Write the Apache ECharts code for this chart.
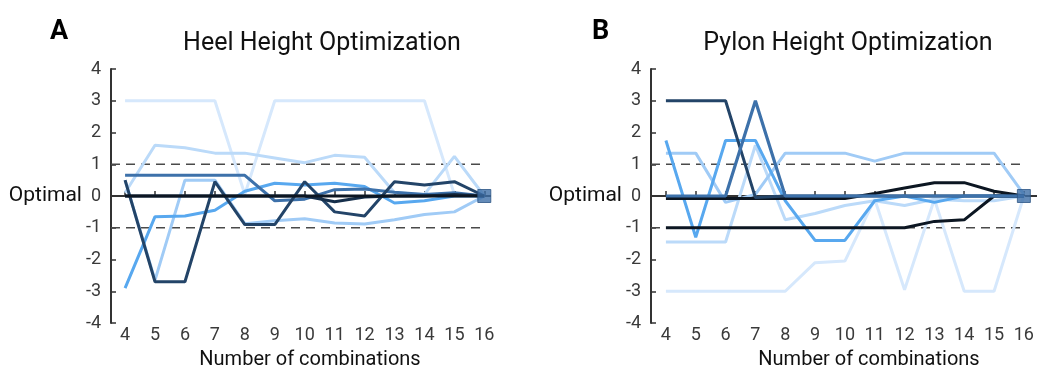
<!DOCTYPE html>
<html><head><meta charset="utf-8">
<script src="https://cdn.jsdelivr.net/npm/echarts@6/dist/echarts.min.js"></script>
<style>html,body{margin:0;padding:0;background:#fff}#c{width:1037px;height:369px}</style>
</head><body><div id="c"></div>
<script>
const combos = [4,5,6,7,8,9,10,11,12,13,14,15,16];
const yTicks = [-4,-3,-2,-1,0,1,2,3,4];
// Heel height (panel A)
const heelPalest = [3,3,3,3,0.05,3,3,3,3,3,3,0.05,0];
const heelPale   = [0.1,1.6,1.52,1.35,1.35,1.2,1.05,1.28,1.22,0.1,0.05,1.25,0];
const heelLight  = [0.5,-2.65,0.5,0.5,-0.87,-0.78,-0.72,-0.85,-0.88,-0.75,-0.58,-0.5,0];
const heelBright = [-2.9,-0.65,-0.63,-0.45,0.15,0.4,0.35,0.4,0.3,-0.22,-0.15,0,0];
const heelMedium = [0.65,0.65,0.65,0.65,0.65,-0.15,-0.1,0.2,0.22,0.12,0.05,0.1,0];
const heelNavy   = [0.5,-2.7,-2.7,0.45,-0.9,-0.9,0.45,-0.5,-0.63,0.45,0.35,0.45,0];
const heelDark   = [0,0,0,0,0,0,0,-0.18,-0.03,0,0,0.05,0];
const heelBlack  = [0,0,0,0,0,0,0,0,0,0,0,0,0];
// Pylon height (panel B)
const pylPalest = [-3,-3,-3,-3,-3,-2.1,-2.05,-0.1,-2.95,-0.1,-3,-3,0];
const pylPale   = [-1.45,-1.45,-1.45,1.6,-0.75,-0.55,-0.3,-0.15,-0.3,-0.1,-0.15,-0.15,0];
const pylLight  = [1.35,1.35,-0.2,0.05,1.35,1.35,1.35,1.1,1.35,1.35,1.35,1.35,0.05];
const pylBright = [1.75,-1.3,1.75,1.75,-0.15,-1.4,-1.4,-0.15,0,-0.2,0,0,0];
const pylNavy   = [3,3,3,-0.05,0,0,0,0,0,0,0,0,0];
const pylMedium = [0,0,0,3,0,0,0,0,0,0,0,0,0];
const pylBlack1 = [-1,-1,-1,-1,-1,-1,-1,-1,-1,-0.8,-0.75,0,0];
const pylBlack2 = [-0.08,-0.08,-0.08,-0.08,-0.08,-0.08,-0.08,0.08,0.25,0.42,0.42,0.15,0];
const refLevels = [1,-1];
const optimum = [16,0];
const titles = ['Heel Height Optimization','Pylon Height Optimization'];
const panelLetters = ['A','B'];
const xName = 'Number of combinations';

const col = {palest:'#d6e8fc',pale:'#bbdaf9',light:'#a0cbf6',bright:'#58a8ef',medium:'#3d71aa',navy:'#234468',dark:'#162f4b',black:'#0c1622'};
const zip = arr => combos.map((c,i)=>[c,arr[i]]);
function line(arr, color, idx, w){
  return {type:'line', data:zip(arr), xAxisIndex:idx, yAxisIndex:idx, symbol:'none',
    lineStyle:{color:color, width:w||3}, itemStyle:{color:color}, animation:false, z:2};
}
function refs(idx, xmin){
  return refLevels.map(v=>({type:'line', data:[[xmin,v],[16,v]], xAxisIndex:idx, yAxisIndex:idx, symbol:'none',
    lineStyle:{color:'#4a4a4a', width:1.6, type:[9,6]}, animation:false, z:1}));
}
const chart = echarts.init(document.getElementById('c'));
const xMins = [3.53, 3.5], xMaxs = [16.19, 16.44];
function xAxis(i, gi){
  return {type:'value', gridIndex:gi, min:xMins[i], max:xMaxs[i],
    axisLine:{lineStyle:{color:'#333', width:2}},
    axisTick:{inside:true, length:5, customValues:combos, lineStyle:{color:'#333', width:1.5}},
    axisLabel:{customValues:combos, color:'#3a3a3a', fontSize:18, fontFamily:'Roboto', margin:3},
    splitLine:{show:false}};
}
function yAxis(gi){
  return {type:'value', gridIndex:gi, min:-4, max:4, interval:1,
    axisLine:{show:true, lineStyle:{color:'#333', width:2}},
    axisTick:{show:true, inside:true, length:5, lineStyle:{color:'#333', width:1.5}},
    axisLabel:{color:'#3a3a3a', fontSize:18, fontFamily:'Roboto', margin:10,
      formatter: v => v===0 ? '{o|Optimal}  0' : String(v),
      rich:{o:{color:'#111', fontSize:21, fontFamily:'Roboto'}}},
    splitLine:{show:false}};
}
chart.setOption({
  animation:false,
  grid:[{left:111, right:547, top:69, bottom:46}, {left:651, right:0, top:69, bottom:46}],
  xAxis:[xAxis(0,0), xAxis(1,1)],
  yAxis:[yAxis(0), yAxis(1)],
  title:[
    {text:panelLetters[0], left:45, top:14, textStyle:{fontSize:27, fontWeight:'bold', color:'#000', fontFamily:'Roboto'}},
    {text:panelLetters[1], left:587, top:14, textStyle:{fontSize:27, fontWeight:'bold', color:'#000', fontFamily:'Roboto'}},
    {text:titles[0], left:317, top:26, textAlign:'center', textStyle:{fontSize:25, fontWeight:'normal', color:'#111', fontFamily:'Roboto'}},
    {text:titles[1], left:843, top:26, textAlign:'center', textStyle:{fontSize:25, fontWeight:'normal', color:'#111', fontFamily:'Roboto'}},
    {text:xName, left:305, top:345, textAlign:'center', textStyle:{fontSize:20, fontWeight:'normal', color:'#111', fontFamily:'Roboto'}},
    {text:xName, left:864, top:345, textAlign:'center', textStyle:{fontSize:20, fontWeight:'normal', color:'#111', fontFamily:'Roboto'}}
  ],
  series:[
    ...refs(0, xMins[0]),
    line(heelPalest,col.palest,0), line(heelPale,col.pale,0), line(heelLight,col.light,0),
    line(heelBright,col.bright,0), line(heelMedium,col.medium,0), line(heelNavy,col.navy,0),
    line(heelDark,col.dark,0), line(heelBlack,col.black,0,3.2),
    {type:'scatter', data:[optimum], xAxisIndex:0, yAxisIndex:0, symbol:'rect', symbolSize:13,
      itemStyle:{color:'#3d6ea6', borderColor:'#2c5585', borderWidth:1}, z:5},
    ...refs(1, xMins[1]),
    line(pylPalest,col.palest,1), line(pylPale,col.pale,1), line(pylLight,col.light,1),
    line(pylBright,col.bright,1), line(pylBlack1,col.black,1), line(pylBlack2,col.black,1),
    line(pylNavy,col.navy,1), line(pylMedium,col.medium,1,3.2),
    {type:'scatter', data:[optimum], xAxisIndex:1, yAxisIndex:1, symbol:'rect', symbolSize:13,
      itemStyle:{color:'#3d6ea6', borderColor:'#2c5585', borderWidth:1}, z:5}
  ]
});
</script></body></html>
